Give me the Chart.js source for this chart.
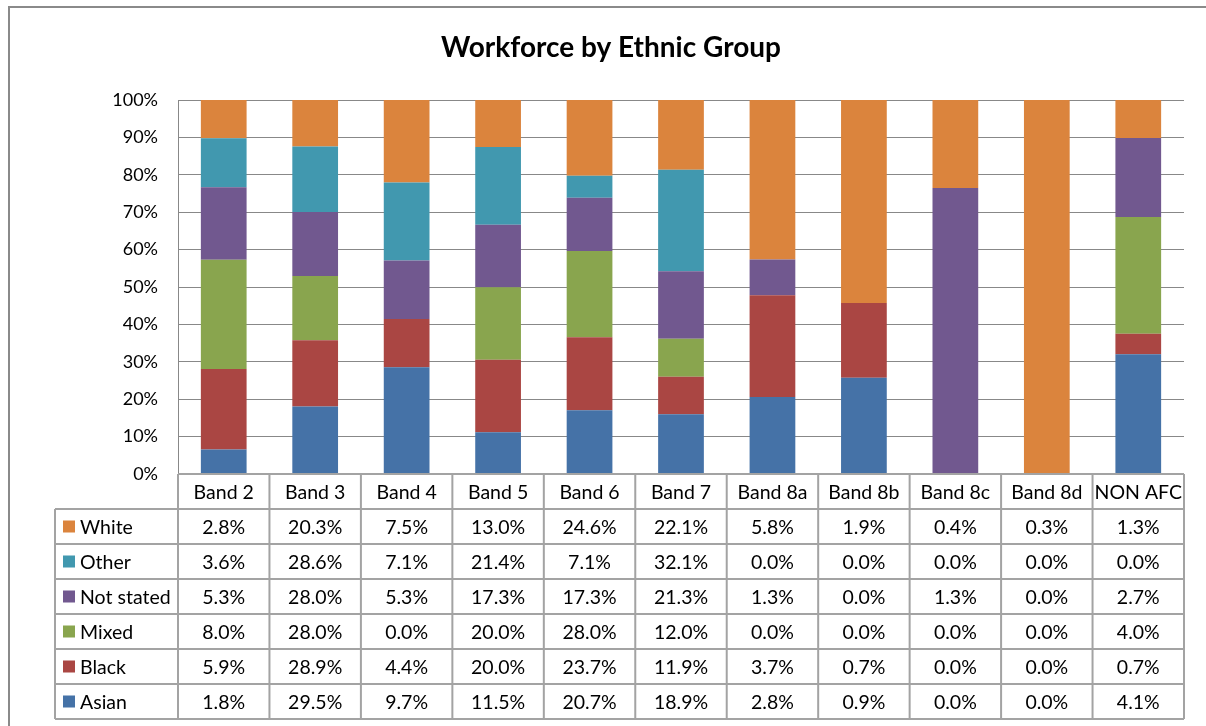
<!DOCTYPE html>
<html>
<head>
<meta charset="utf-8">
<title>Workforce by Ethnic Group</title>
<script src="https://cdn.jsdelivr.net/npm/chart.js@4"></script>
<style>
  html, body { margin: 0; padding: 0; background: #fff; }
  #wrap { position: relative; width: 1206px; height: 726px; }
</style>
</head>
<body>
<div id="wrap"><canvas id="myChart" width="1206" height="726"></canvas></div>
<script>
// Bands along the x axis
const bands = ["Band 2", "Band 3", "Band 4", "Band 5", "Band 6", "Band 7", "Band 8a", "Band 8b", "Band 8c", "Band 8d", "NON AFC"];

// Share of each ethnic group found in each band (%)
const white     = [2.8, 20.3, 7.5, 13.0, 24.6, 22.1, 5.8, 1.9, 0.4, 0.3, 1.3];
const other     = [3.6, 28.6, 7.1, 21.4, 7.1, 32.1, 0.0, 0.0, 0.0, 0.0, 0.0];
const notStated = [5.3, 28.0, 5.3, 17.3, 17.3, 21.3, 1.3, 0.0, 1.3, 0.0, 2.7];
const mixed     = [8.0, 28.0, 0.0, 20.0, 28.0, 12.0, 0.0, 0.0, 0.0, 0.0, 4.0];
const black     = [5.9, 28.9, 4.4, 20.0, 23.7, 11.9, 3.7, 0.7, 0.0, 0.0, 0.7];
const asian     = [1.8, 29.5, 9.7, 11.5, 20.7, 18.9, 2.8, 0.9, 0.0, 0.0, 4.1];

const yTicks = [0, 10, 20, 30, 40, 50, 60, 70, 80, 90, 100];

// stacked bottom to top
const groups = [
  { label: "Asian", values: asian, color: "#4572A7" },
  { label: "Black", values: black, color: "#AA4643" },
  { label: "Mixed", values: mixed, color: "#89A54E" },
  { label: "Not stated", values: notStated, color: "#71588F" },
  { label: "Other", values: other, color: "#4198AF" },
  { label: "White", values: white, color: "#DB843D" }
];

// each bar is scaled to 100% of its band
const totals = bands.map((b, i) => groups.reduce((s, g) => s + g.values[i], 0));

const FONT = "Lato, Calibri, 'Open Sans', sans-serif";
const GRID = "#888888";
const LINE = "#a3a3a3";

// Frame, title and the data table under the plot
const tablePlugin = {
  id: "dataTable",
  afterDraw(chart) {
    const ctx = chart.ctx;
    const area = chart.chartArea;
    const x = chart.scales.x;
    const colW = (area.right - area.left) / bands.length;
    const rowH = 35;
    const top = area.bottom;
    const tableLeft = 55;
    const rows = groups.slice().reverse();
    const bottom = top + rowH * (rows.length + 1);

    ctx.save();

    // outer frame
    ctx.strokeStyle = "#8a8a8a";
    ctx.lineWidth = 2;
    ctx.beginPath();
    ctx.moveTo(9, 740);
    ctx.lineTo(9, 7);
    ctx.lineTo(1210, 7);
    ctx.stroke();

    // title
    ctx.fillStyle = "#000";
    ctx.font = "bold 28px " + FONT;
    ctx.textAlign = "center";
    ctx.textBaseline = "middle";
    ctx.fillText("Workforce by Ethnic Group", 611, 48);

    // grid of the table
    ctx.strokeStyle = LINE;
    ctx.lineWidth = 2;
    ctx.beginPath();
    ctx.moveTo(area.left, top);
    ctx.lineTo(area.right, top);
    for (let r = 1; r <= rows.length + 1; r++) {
      const y = top + r * rowH;
      ctx.moveTo(tableLeft, y);
      ctx.lineTo(area.right, y);
    }
    ctx.moveTo(tableLeft, top + rowH);
    ctx.lineTo(tableLeft, bottom);
    for (let c = 0; c <= bands.length; c++) {
      const xx = area.left + c * colW;
      ctx.moveTo(xx, top);
      ctx.lineTo(xx, bottom);
    }
    ctx.stroke();

    ctx.font = "19.5px " + FONT;
    ctx.fillStyle = "#000";
    ctx.textBaseline = "middle";

    // band names
    ctx.textAlign = "center";
    bands.forEach((b, i) => {
      ctx.fillText(b, x.getPixelForValue(i), top + rowH / 2 + 1);
    });

    // one row per group, legend key in the first cell
    rows.forEach((g, r) => {
      const cy = top + rowH * (r + 1) + rowH / 2 + 1;
      ctx.fillStyle = g.color;
      ctx.fillRect(63, cy - 7, 12, 12);
      ctx.fillStyle = "#000";
      ctx.textAlign = "left";
      ctx.fillText(g.label, 80, cy);
      ctx.textAlign = "center";
      g.values.forEach((v, i) => {
        ctx.fillText(v.toFixed(1) + "%", x.getPixelForValue(i), cy);
      });
    });

    ctx.restore();
  }
};

const ctx = document.getElementById("myChart").getContext("2d");
new Chart(ctx, {
  type: "bar",
  data: {
    labels: bands,
    datasets: groups.map(g => ({
      label: g.label,
      data: g.values.map((v, i) => totals[i] ? v / totals[i] * 100 : 0),
      backgroundColor: g.color,
      borderWidth: 0,
      barPercentage: 0.5,
      categoryPercentage: 1
    }))
  },
  options: {
    responsive: false,
    animation: false,
    layout: { padding: { top: 100, left: 0, right: 22, bottom: 252 } },
    plugins: {
      legend: { display: false },
      title: { display: false },
      tooltip: { enabled: false }
    },
    scales: {
      x: {
        stacked: true,
        afterFit(scale) { scale.height = 0; },
        grid: { display: false },
        border: { display: false },
        ticks: { display: false }
      },
      y: {
        stacked: true,
        min: 0,
        max: 100,
        afterFit(scale) { scale.width = 178; },
        afterBuildTicks(scale) { scale.ticks = yTicks.map(v => ({ value: v })); },
        grid: { color: GRID, lineWidth: 1, drawTicks: false },
        border: { color: GRID, width: 1 },
        ticks: {
          padding: 20,
          color: "#000",
          font: { family: FONT, size: 18 },
          callback: v => v + "%"
        }
      }
    }
  },
  plugins: [tablePlugin]
});
</script>
</body>
</html>
